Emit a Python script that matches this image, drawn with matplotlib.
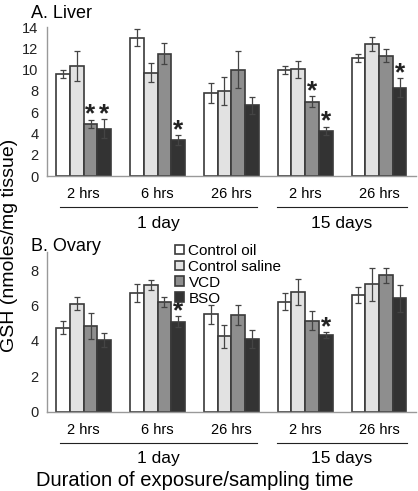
import numpy as np
import matplotlib.pyplot as plt
from matplotlib.transforms import blended_transform_factory

plt.rcParams['font.family'] = ['Liberation Sans', 'DejaVu Sans']

cats = ['2 hrs', '6 hrs', '26 hrs', '2 hrs', '26 hrs']
groups = ['Control oil', 'Control saline', 'VCD', 'BSO']
colors = ['#ffffff', '#e2e2e2', '#8e8e8e', '#333333']

# Liver GSH (mean, sem) per group, across the 5 time points
liver_co = [9.6, 13.0, 7.8, 9.95, 11.1]
liver_cs = [10.3, 9.7, 8.0, 10.05, 12.4]
liver_vcd = [4.9, 11.5, 10.0, 7.0, 11.3]
liver_bso = [4.45, 3.4, 6.65, 4.25, 8.3]
liver_co_e = [0.4, 0.8, 0.9, 0.4, 0.4]
liver_cs_e = [1.4, 0.9, 1.3, 0.8, 0.7]
liver_vcd_e = [0.4, 1.0, 1.7, 0.5, 0.6]
liver_bso_e = [0.9, 0.45, 0.8, 0.4, 0.9]
liver_star = [(0, 2), (0, 3), (1, 3), (3, 2), (3, 3), (4, 3)]

# Ovary GSH
ovary_co = [4.75, 6.7, 5.5, 6.2, 6.6]
ovary_cs = [6.1, 7.15, 4.25, 6.75, 7.2]
ovary_vcd = [4.85, 6.2, 5.45, 5.15, 7.7]
ovary_bso = [4.05, 5.08, 4.1, 4.33, 6.4]
ovary_co_e = [0.37, 0.5, 0.52, 0.48, 0.47]
ovary_cs_e = [0.38, 0.27, 0.65, 0.73, 0.92]
ovary_vcd_e = [0.75, 0.28, 0.58, 0.53, 0.42]
ovary_bso_e = [0.42, 0.3, 0.5, 0.18, 0.76]
ovary_star = [(1, 3), (3, 3)]

day_groups = [('1 day', -0.32, 2.35), ('15 days', 2.62, 4.38)]

fig = plt.figure(figsize=(4.18, 4.91), dpi=100)
ax1 = fig.add_axes([0.112, 0.6415, 0.883, 0.3035])
ax2 = fig.add_axes([0.112, 0.1615, 0.883, 0.3245])

x = np.arange(len(cats))
w = 0.186


def draw(ax, vals, errs, stars, ymax, ticks):
    for i, (v, e) in enumerate(zip(vals, errs)):
        pos = x + (i - 1.5) * w
        ax.bar(pos, v, w, color=colors[i], edgecolor='#3a3a3a', linewidth=1.2,
               label=groups[i], zorder=2)
        ax.errorbar(pos, v, yerr=e, fmt='none', ecolor='#444444', elinewidth=0.9,
                    capsize=2.5, capthick=0.9, zorder=3)
    for c, g in stars:
        top = vals[g][c] + errs[g][c]
        ax.annotate('*', (c + (g - 1.5) * w, top), xytext=(0, -1.5),
                    textcoords='offset points', ha='center', va='baseline',
                    fontsize=19, fontweight='bold', color='#222222')
    ax.set_xlim(-0.5, 4.5)
    ax.set_ylim(0, ymax)
    ax.set_yticks(ticks)
    ax.tick_params(axis='y', length=0, labelsize=10.5, pad=6, colors='#222222')
    ax.tick_params(axis='x', length=0)
    ax.set_xticks([])
    for s in ['top', 'right']:
        ax.spines[s].set_visible(False)
    for s in ['left', 'bottom']:
        ax.spines[s].set_color('#999999')
        ax.spines[s].set_linewidth(1.0)
    tr = blended_transform_factory(ax.transData, ax.transAxes)
    h = ax.get_position().height * 491
    for i, c in enumerate(cats):
        ax.text(i, -18 / h, c, transform=tr, ha='center', va='center', fontsize=10.5)
    for name, a, b in day_groups:
        ax.plot([a, b], [-31 / h, -31 / h], transform=tr, color='#222222',
                lw=0.8, clip_on=False)
        ax.text((a + b) / 2, -47 / h, name, transform=tr, ha='center',
                va='center', fontsize=12.5)


all_liver = [liver_co, liver_cs, liver_vcd, liver_bso]
all_liver_e = [liver_co_e, liver_cs_e, liver_vcd_e, liver_bso_e]
all_ovary = [ovary_co, ovary_cs, ovary_vcd, ovary_bso]
all_ovary_e = [ovary_co_e, ovary_cs_e, ovary_vcd_e, ovary_bso_e]

draw(ax1, all_liver, all_liver_e, liver_star, 14, range(0, 15, 2))
draw(ax2, all_ovary, all_ovary_e, ovary_star, 9, range(0, 9, 2))

fig.text(0.074, 0.99, 'A. Liver', ha='left', va='top', fontsize=13)
fig.text(0.074, 0.515, 'B. Ovary', ha='left', va='top', fontsize=13)
fig.text(0.022, 0.5, 'GSH (nmoles/mg tissue)', rotation=90, ha='center',
         va='center', fontsize=14)
fig.text(0.467, 0.022, 'Duration of exposure/sampling time', ha='center',
         va='center', fontsize=14.5)

fig.legend(*ax2.get_legend_handles_labels(), loc='upper left',
           bbox_to_anchor=(0.418, 0.503), frameon=False,
           fontsize=11, handlelength=0.6, handleheight=0.6, handletextpad=0.3,
           labelspacing=0.12, borderaxespad=0, borderpad=0)

fig.savefig('out.png', dpi=100)
